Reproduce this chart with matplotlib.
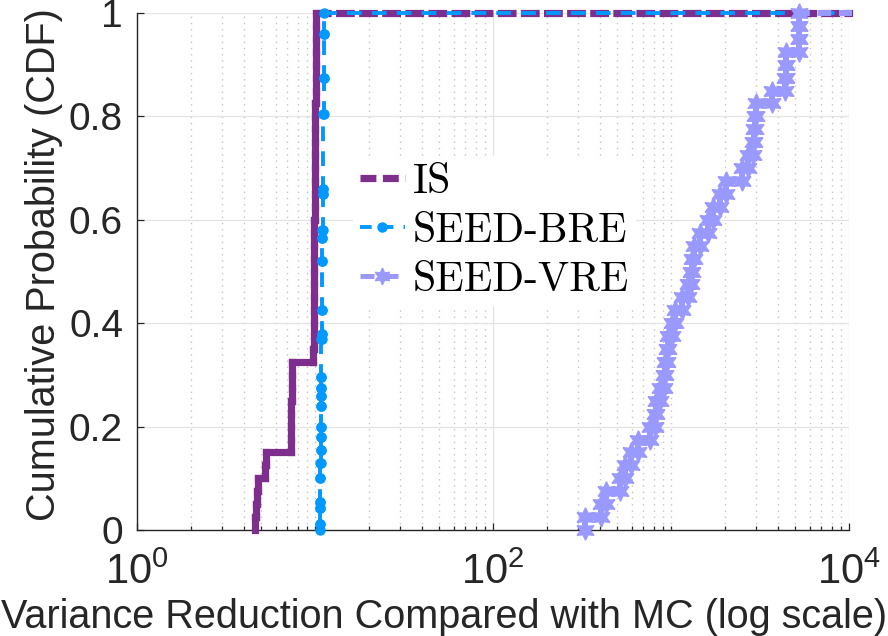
import numpy as np
import matplotlib
matplotlib.use('Agg')
import matplotlib.pyplot as plt
from matplotlib.collections import LineCollection
from matplotlib.lines import Line2D
from matplotlib.ticker import LogLocator, NullFormatter

plt.rcParams['font.family'] = ['Liberation Sans', 'DejaVu Sans']
plt.rcParams['mathtext.fontset'] = 'custom'
plt.rcParams['mathtext.rm'] = 'Liberation Sans'
plt.rcParams['mathtext.default'] = 'regular'

# variance reduction samples
IS_vals = [4.60, 4.68, 4.72, 4.76, 5.25, 5.30,
           7.34, 7.35, 7.36, 7.37, 7.38, 7.39, 7.40,
           9.80, 9.81, 9.83, 9.84, 9.85, 9.87, 9.88, 9.89, 9.91, 9.92, 9.93,
           9.95, 9.96, 9.97, 9.99, 10.00, 10.01, 10.03, 10.04, 10.05, 10.07,
           10.08, 10.09, 10.11, 10.12, 10.13, 10.15]

BRE_x = [10.65, 10.67, 10.68, 10.70, 10.72, 10.74, 10.75, 10.76, 10.79, 10.80,
         10.81, 10.82, 10.87, 10.88, 10.90, 10.96, 10.99, 11.00, 11.04, 11.05,
         11.13, 11.17, 11.22, 11.25]
BRE_cdf = [0.012, 0.042, 0.055, 0.10, 0.13, 0.155, 0.18, 0.20, 0.24, 0.26,
           0.275, 0.295, 0.37, 0.38, 0.425, 0.52, 0.565, 0.58, 0.65, 0.66,
           0.805, 0.875, 0.96, 1.0]

VRE_vals = [330, 405, 430, 520, 555, 595, 650, 760, 818, 828,
            865, 915, 930, 950, 968, 1010, 1058, 1150, 1245, 1290,
            1305, 1350, 1450, 1623, 1720, 1880, 2050, 2520, 2700, 2870,
            2930, 2980, 3020, 3698, 4396, 4410, 4430, 5223, 5240, 5260]

labels = ['IS', 'SEED-BRE', 'SEED-VRE']
c_is = '#7E2F8E'
c_bre = '#0099FF'
c_vre = '#9999FF'
xmax = 1e4


def ecdf(v):
    v = np.sort(np.array(v, dtype=float))
    return v, np.arange(1, len(v) + 1) / len(v)


def stairs(xs, fs):
    px = [xs[0]]
    py = [0.0]
    prev = 0.0
    for i in range(len(xs)):
        if i > 0:
            px.append(xs[i]); py.append(prev)
        px.append(xs[i]); py.append(fs[i])
        prev = fs[i]
    return np.array(px), np.array(py)


fig = plt.figure(figsize=(8.88, 6.36), dpi=100)
ax = fig.add_axes([137/888, 106/636, 712/888, 517/636])
ax.set_xscale('log')
ax.set_xlim(1, xmax)
ax.set_ylim(0, 1)


def draw(xs, fs, color, lw, dash, z, solid_below=0, marker=None, ms=0):
    px, py = stairs(xs, fs)
    lx = np.append(px, xmax)
    ly = np.append(py, py[-1])
    pts = np.column_stack([lx, ly])
    pix = ax.transData.transform(pts)
    segs, styles = [], []
    for i in range(len(pts) - 1):
        d = np.hypot(*(pix[i+1] - pix[i]))
        if d < 0.01:
            continue
        segs.append(pts[i:i+2])
        styles.append('solid' if d < solid_below else (0, dash))
    lc = LineCollection(segs, colors=color, linewidths=lw, linestyles=styles,
                        capstyle='projecting', joinstyle='miter', zorder=z)
    lc.set_clip_on(False)
    ax.add_collection(lc)
    if marker:
        ax.plot(px, py, ls='none', marker=marker, ms=ms, color=color,
                mec=color, mfc=color, zorder=z + 0.5, clip_on=False)


x, f = ecdf(IS_vals)
draw(x, f, c_is, 5.2, (1.6, 1.6), 3, solid_below=30)
draw(BRE_x, BRE_cdf, c_bre, 2.8, (2.8, 3.6), 4, marker='o', ms=6.5)
x, f = ecdf(VRE_vals)
draw(x, f, c_vre, 4.3, (1.3, 2.3), 5, solid_below=12, marker=(6, 1, 0), ms=14)

# axes styling
ax.xaxis.set_major_locator(LogLocator(base=100))
ax.xaxis.set_minor_locator(LogLocator(base=10, subs=np.arange(1, 10)))
ax.xaxis.set_minor_formatter(NullFormatter())
ax.set_yticks([0, 0.2, 0.4, 0.6, 0.8, 1])
ax.set_yticklabels(['0', '0.2', '0.4', '0.6', '0.8', '1'])
ax.set_axisbelow(True)
ax.grid(which='major', color='#e3e3e3', lw=0.9, ls='-')
ax.grid(which='minor', axis='x', color='#c4c4c4', lw=1.0, ls=(0, (1, 3.5)))
for s in ['top', 'right']:
    ax.spines[s].set_visible(False)
for s in ['left', 'bottom']:
    ax.spines[s].set_color('#262626')
    ax.spines[s].set_linewidth(1.0)
ax.tick_params(which='both', direction='in', colors='#262626', labelsize=28,
               top=False, right=False)
ax.tick_params(which='major', length=5, width=0.9)
ax.tick_params(which='minor', length=3, width=0.9)
ax.tick_params(axis='y', pad=10)
ax.tick_params(axis='x', pad=16, labelsize=30)

ax.set_xlabel('Variance Reduction Compared with MC (log scale)', fontsize=28.5,
              color='#262626')
ax.xaxis.set_label_coords(0.431, -0.132)
ax.set_ylabel('Cumulative Probability (CDF)', fontsize=28.5, color='#262626')
ax.yaxis.set_label_coords(-0.104, 0.513)

handles = [
    Line2D([], [], color=c_is, lw=5.2, ls=(0, (2.2, 0.9))),
    Line2D([], [], color=c_bre, lw=2.8, ls=(0, (3.0, 2.6)), marker='o', ms=6.5),
    Line2D([], [], color=c_vre, lw=3.6, ls=(0, (2.8, 2.0)), marker=(6, 1, 0), ms=12),
]
leg = ax.legend(handles, labels, loc='upper left',
                bbox_to_anchor=(353/888, 1 - 156/636), bbox_transform=fig.transFigure,
                borderaxespad=0, prop={'family': 'cmr10', 'size': 30},
                handlelength=1.07, handletextpad=0.2, borderpad=0.17,
                labelspacing=0.28, numpoints=1, fancybox=False, framealpha=1,
                edgecolor='none')
leg.set_zorder(10)

fig.savefig('out.png', dpi=100)
